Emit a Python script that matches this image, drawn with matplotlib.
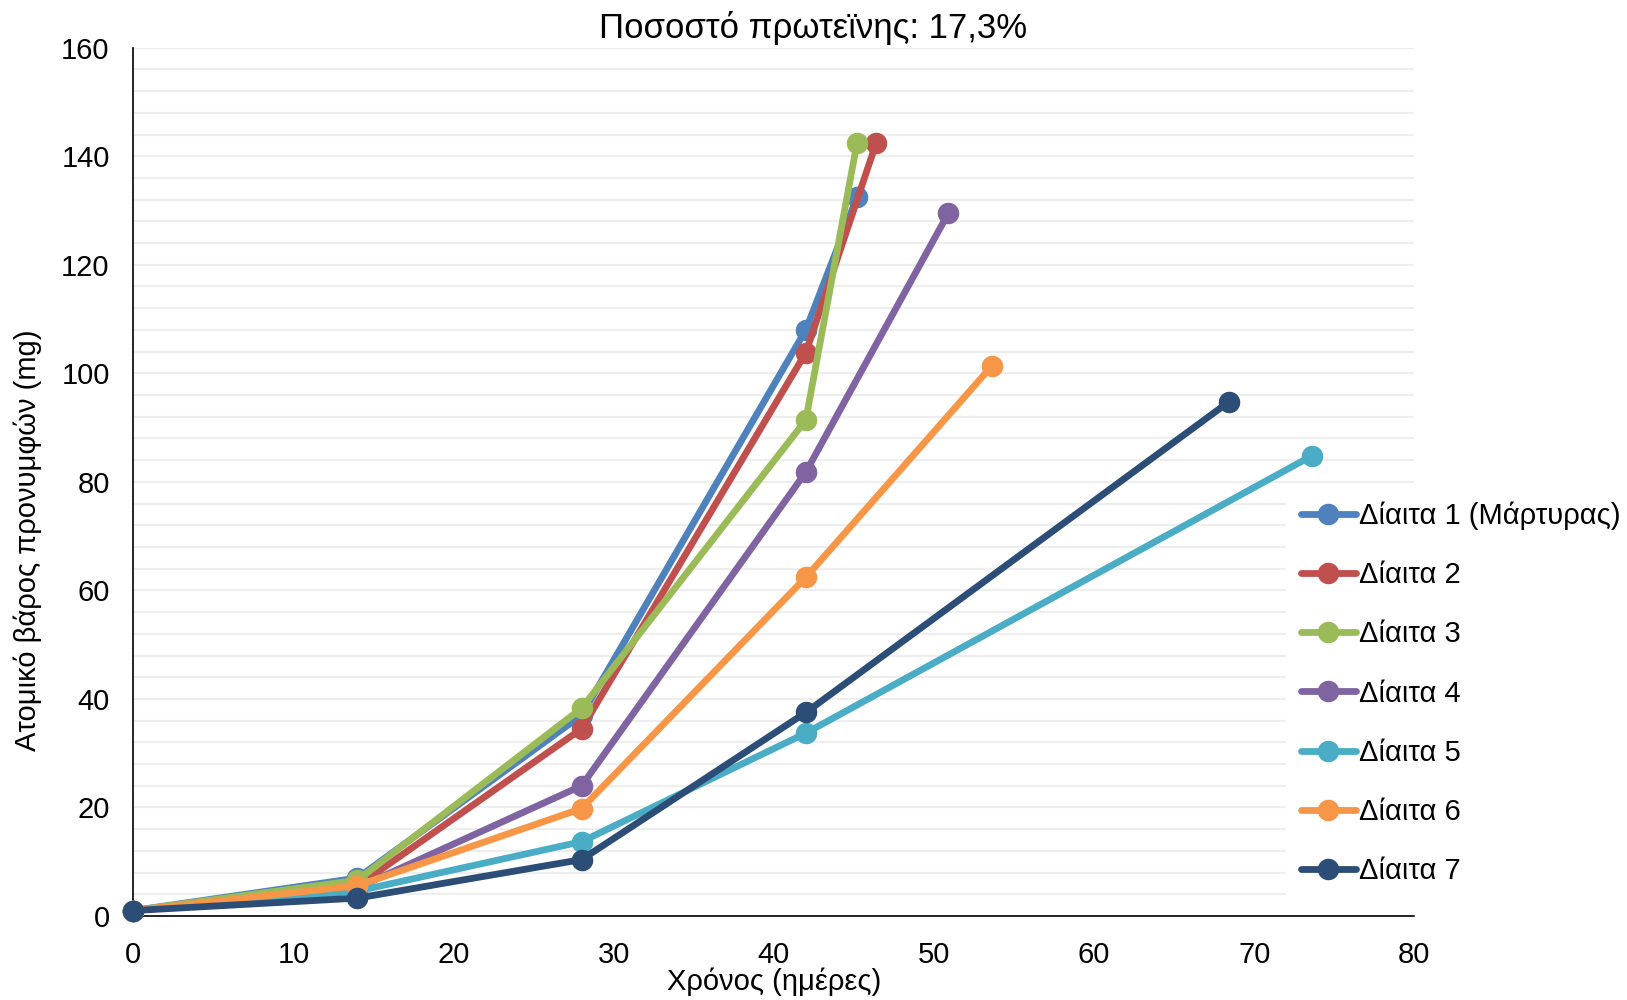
import matplotlib
matplotlib.use("Agg")
import matplotlib.pyplot as plt
import numpy as np

plt.rcParams['font.family'] = ['Liberation Sans', 'DejaVu Sans']

# data
days_1 = [0, 14, 28, 42, 45.2]
days_2 = [0, 14, 28, 42, 46.4]
days_3 = [0, 14, 28, 42, 45.2]
days_4 = [0, 14, 28, 42, 50.9]
days_5 = [0, 14, 28, 42, 73.6]
days_6 = [0, 14, 28, 42, 53.6]
days_7 = [0, 14, 28, 42, 68.4]

weight_1 = [1.0, 7.0, 37.0, 108.0, 132.5]
weight_2 = [1.0, 5.5, 34.5, 103.8, 142.5]
weight_3 = [1.0, 6.6, 38.3, 91.4, 142.5]
weight_4 = [1.0, 5.2, 24.0, 81.8, 129.5]
weight_5 = [1.0, 4.6, 13.7, 33.7, 84.8]
weight_6 = [1.0, 5.6, 19.8, 62.4, 101.3]
weight_7 = [1.0, 3.3, 10.4, 37.5, 94.7]

labels = ["Δίαιτα 1 (Μάρτυρας)", "Δίαιτα 2", "Δίαιτα 3", "Δίαιτα 4",
          "Δίαιτα 5", "Δίαιτα 6", "Δίαιτα 7"]
colors = ["#4F81BD", "#C0504D", "#9BBB59", "#8064A2",
          "#4BACC6", "#F79646", "#2C4D75"]

xs = [days_1, days_2, days_3, days_4, days_5, days_6, days_7]
ys = [weight_1, weight_2, weight_3, weight_4, weight_5, weight_6, weight_7]

fig = plt.figure(figsize=(16.27, 10), dpi=100)
ax = fig.add_axes([0.0819, 0.084, 0.8693 - 0.0819, 0.9523 - 0.084])

for x, y, lab, c in zip(xs, ys, labels, colors):
    ax.plot(x, y, color=c, lw=4.9, marker='o', ms=14.5, label=lab,
            clip_on=False, zorder=3, solid_capstyle='round')

ax.set_xlim(0, 80)
ax.set_ylim(0, 160)
ax.set_xticks(np.arange(0, 81, 10))
ax.set_yticks(np.arange(0, 161, 20))
ax.set_yticks(np.arange(0, 161, 4), minor=True)
ax.grid(True, which='both', axis='y', color='#EEEEEE', lw=1.6, zorder=0)
ax.tick_params(axis='both', which='both', length=0, labelsize=21)
ax.tick_params(axis='y', pad=17)
ax.tick_params(axis='x', pad=18)
for s in ['top', 'right']:
    ax.spines[s].set_visible(False)
for s in ['left', 'bottom']:
    ax.spines[s].set_color('black')
    ax.spines[s].set_linewidth(1.2)
ax.set_axisbelow(True)

fig.text(0.5, 1 - 28 / 1000, "Ποσοστό πρωτεϊνης: 17,3%", ha='center',
         va='center', fontsize=25)
fig.text(774 / 1627, 1 - 982 / 1000, "Χρόνος (ημέρες)", ha='center',
         va='center', fontsize=21)
fig.text(28 / 1627, 1 - 540 / 1000, "Ατομικό βάρος προνυμφών (mg)",
         ha='center', va='center', rotation=90, fontsize=21)

leg = fig.legend(loc='upper left', bbox_to_anchor=(1286 / 1627, 1 - 487 / 1000),
                 fontsize=21, frameon=True, facecolor='white', edgecolor='none',
                 framealpha=1, fancybox=False, borderpad=0.5, borderaxespad=0,
                 handlelength=1.9, handletextpad=0.1, labelspacing=1.07)

fig.savefig("out.png", dpi=100)
